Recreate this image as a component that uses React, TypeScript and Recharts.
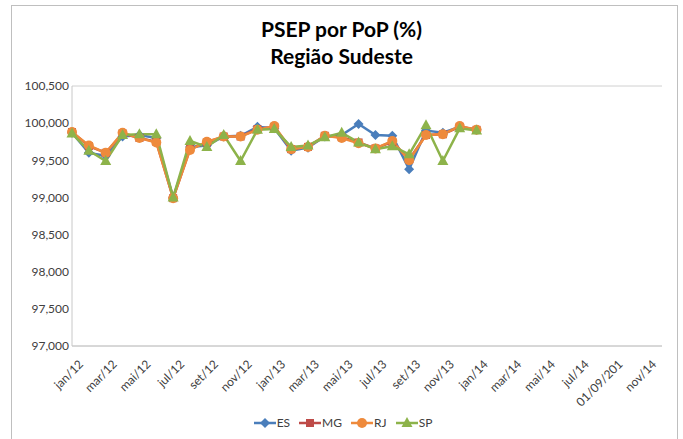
import { CartesianGrid, Legend, Line, LineChart, XAxis, YAxis } from 'recharts';

const MONTHS = [
  'jan/12', 'fev/12', 'mar/12', 'abr/12', 'mai/12', 'jun/12', 'jul/12', 'ago/12', 'set/12', 'out/12', 'nov/12', 'dez/12',
  'jan/13', 'fev/13', 'mar/13', 'abr/13', 'mai/13', 'jun/13', 'jul/13', 'ago/13', 'set/13', 'out/13', 'nov/13', 'dez/13',
  'jan/14', 'fev/14', 'mar/14', 'abr/14', 'mai/14', 'jun/14', 'jul/14', 'ago/14', '01/09/201', 'out/14', 'nov/14', 'dez/14',
];

const ES = [99.87, 99.6, 99.56, 99.82, 99.84, 99.8, 99.0, 99.68, 99.7, 99.82, 99.83, 99.95, 99.93, 99.63, 99.67, 99.82, 99.84, 99.99, 99.84, 99.83, 99.38, 99.9, 99.87, 99.95, 99.91];
const MG = [99.88, 99.69, 99.6, 99.86, 99.8, 99.75, 98.99, 99.65, 99.74, 99.82, 99.82, 99.92, 99.95, 99.65, 99.68, 99.83, 99.81, 99.74, 99.66, 99.75, 99.51, 99.84, 99.85, 99.95, 99.91];
const RJ = [99.88, 99.7, 99.6, 99.87, 99.8, 99.74, 98.99, 99.64, 99.75, 99.82, 99.82, 99.91, 99.96, 99.65, 99.68, 99.83, 99.8, 99.73, 99.66, 99.76, 99.5, 99.84, 99.85, 99.96, 99.91];
const SP = [99.86, 99.63, 99.49, 99.84, 99.85, 99.85, 99.0, 99.76, 99.68, 99.84, 99.49, 99.91, 99.92, 99.68, 99.7, 99.81, 99.87, 99.74, 99.65, 99.69, 99.58, 99.97, 99.49, 99.93, 99.9];

const Y_TICKS = [97, 97.5, 98, 98.5, 99, 99.5, 100, 100.5];

const COLORS = { ES: '#4a7ebb', MG: '#be4b48', RJ: '#ee8a3c', SP: '#8db34a' };

const data = MONTHS.map((m, i) => ({
  month: m,
  ES: ES[i] ?? null,
  MG: MG[i] ?? null,
  RJ: RJ[i] ?? null,
  SP: SP[i] ?? null,
}));

const fmt = (v: number) => v.toFixed(3).replace('.', ',');

function Marker({ kind, cx, cy, color }: { kind: string; cx: number; cy: number; color: string }) {
  if (cx == null || cy == null) return null;
  if (kind === 'ES') {
    const s = 5;
    return <polygon points={`${cx},${cy - s} ${cx + s},${cy} ${cx},${cy + s} ${cx - s},${cy}`} fill={color} />;
  }
  if (kind === 'MG') {
    return <rect x={cx - 4} y={cy - 4} width={8} height={8} fill={color} />;
  }
  if (kind === 'RJ') {
    return <circle cx={cx} cy={cy} r={5} fill={color} />;
  }
  return <polygon points={`${cx},${cy - 6} ${cx + 5.5},${cy + 4} ${cx - 5.5},${cy + 4}`} fill={color} />;
}

const dot = (kind: string) => (props: any) => (
  <Marker key={`${kind}-${props.index}`} kind={kind} cx={props.cx} cy={props.cy} color={COLORS[kind as keyof typeof COLORS]} />
);

function XTick({ x, y, payload }: any) {
  const ax = x + 12;
  const ay = y + 11;
  return (
    <text x={ax} y={ay} transform={`rotate(-45 ${ax} ${ay})`} textAnchor="end" fontSize={12} fill="#404040" fontFamily="Lato, sans-serif">
      {payload.value}
    </text>
  );
}

function LegendContent() {
  const keys = ['ES', 'MG', 'RJ', 'SP'];
  return (
    <div style={{ display: 'flex', justifyContent: 'center', gap: 9, paddingTop: 6, paddingLeft: 12, fontFamily: 'Lato, sans-serif', fontSize: 12, color: '#404040' }}>
      {keys.map((k) => (
        <div key={k} style={{ display: 'flex', alignItems: 'center', gap: 1 }}>
          <svg width={22} height={12}>
            <line x1={0} y1={6} x2={22} y2={6} stroke={COLORS[k as keyof typeof COLORS]} strokeWidth={2.5} />
            <Marker kind={k} cx={11} cy={6} color={COLORS[k as keyof typeof COLORS]} />
          </svg>
          <span>{k}</span>
        </div>
      ))}
    </div>
  );
}

export default function App() {
  return (
    <div style={{ position: 'absolute', left: 0, top: 0, width: 683, height: 439, background: '#fff', overflow: 'hidden' }}>
      <div style={{ position: 'absolute', left: 11, top: 5, width: 665, height: 450, border: '1px solid #bfbfbf' }} />
      <div
        style={{
          position: 'absolute',
          left: 0,
          top: 15,
          width: 683,
          textAlign: 'center',
          fontFamily: 'Lato, sans-serif',
          fontWeight: 700,
          fontSize: 21,
          lineHeight: '27px',
          color: '#000',
        }}
      >
        PSEP por PoP (%)
        <br />
        Região Sudeste
      </div>
      <div style={{ position: 'absolute', left: 0, top: 0 }}>
        <LineChart width={683} height={439} data={data} margin={{ top: 86, right: 21, bottom: 5, left: 12 }}>
          <CartesianGrid vertical={false} stroke="#d0d0d0" />
          <XAxis
            dataKey="month"
            interval={1}
            tick={<XTick />}
            tickLine={false}
            axisLine={{ stroke: '#c8c8c8' }}
            height={63}
          />
          <YAxis
            yAxisId="l"
            domain={[97, 100.5]}
            ticks={Y_TICKS}
            tickFormatter={fmt}
            tickLine={false}
            axisLine={{ stroke: '#c8c8c8' }}
            width={60}
            tick={{ fontSize: 12, fill: '#404040', fontFamily: 'Lato, sans-serif', dx: 5 }}
          />
          <YAxis yAxisId="r" orientation="right" domain={[97, 100.5]} tick={false} tickLine={false} axisLine={{ stroke: '#c8c8c8' }} width={0} />
          {(['ES', 'MG', 'RJ', 'SP'] as const).map((k) => (
            <Line
              key={k}
              yAxisId="l"
              dataKey={k}
              stroke={COLORS[k]}
              strokeWidth={2.5}
              dot={dot(k)}
              activeDot={false}
              isAnimationActive={false}
            />
          ))}
          <Legend verticalAlign="bottom" height={25} content={<LegendContent />} />
        </LineChart>
      </div>
    </div>
  );
}
